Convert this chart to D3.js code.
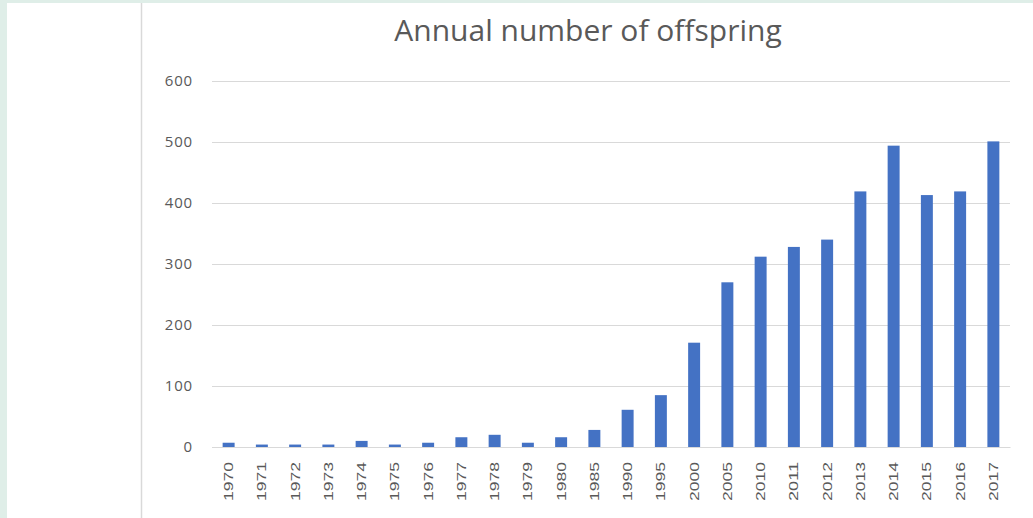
<!doctype html>
<html lang="en">
  <head>
    <meta charset="utf-8">
    <title>Annual number of offspring</title>
    <script src="https://cdnjs.cloudflare.com/ajax/libs/d3/7.8.5/d3.min.js"></script>
    <style>
      html, body { margin: 0; padding: 0; background: #dfeee8; }
      #chart { position: absolute; left: 7px; top: 3px; width: 1026px; height: 515px; background: #fff; }
      .grid line { stroke: #d9d9d9; stroke-width: 1; }
      .tick text { fill: #595959; }
    </style>
  </head>
  <body>
    <div id="chart"></div>
    <script>
      // data
      var years = ["1970","1971","1972","1973","1974","1975","1976","1977","1978","1979","1980",
                   "1985","1990","1995","2000","2005","2010","2011","2012","2013","2014","2015","2016","2017"];
      var offspring = [7, 4, 4, 4, 10, 4, 7, 16, 20, 7, 16, 28, 61, 85, 171, 270, 312, 328, 340, 419, 494, 413, 419, 501];
      var yTicks = [0, 100, 200, 300, 400, 500, 600];

      var width = 1026, height = 515;
      // plot area, in page coords minus the 7/3 px offset of #chart
      var margin = {left: 205, right: 1003, top: 78, bottom: 444};

      var svg = d3.select("#chart").append("svg")
          .attr("width", width)
          .attr("height", height);

      // thin divider line on the left
      svg.append("line")
          .attr("x1", 134.5).attr("x2", 134.5)
          .attr("y1", 0).attr("y2", height)
          .attr("stroke", "#d9d9d9")
          .attr("stroke-width", 1.5);

      var x = d3.scaleBand()
          .domain(years)
          .range([margin.left, margin.right])
          .paddingInner(0.64)
          .paddingOuter(0.32);

      var y = d3.scaleLinear()
          .domain([0, 600])
          .range([margin.bottom, margin.top]);

      // gridlines + y labels
      var yAxis = svg.append("g")
          .attr("class", "grid")
          .attr("transform", "translate(" + margin.left + ",0)")
          .call(d3.axisLeft(y).tickValues(yTicks).tickSize(-(margin.right - margin.left)).tickPadding(19));
      yAxis.select(".domain").remove();
      yAxis.selectAll("text")
          .style("font-family", "'Open Sans', sans-serif")
          .style("font-size", "15px")
          .style("letter-spacing", "0.8px");

      // bars
      svg.selectAll("rect.bar")
          .data(offspring)
          .enter()
          .append("rect")
            .attr("class", "bar")
            .attr("x", function(d, i) { return x(years[i]); })
            .attr("y", function(d) { return y(d); })
            .attr("width", x.bandwidth())
            .attr("height", function(d) { return y(0) - y(d); })
            .attr("fill", "#4472c4");

      // x labels, rotated
      var xAxis = svg.append("g")
          .attr("transform", "translate(0," + margin.bottom + ")")
          .call(d3.axisBottom(x).tickSize(0));
      xAxis.select(".domain")
          .attr("stroke", "#d9d9d9");
      xAxis.selectAll("text")
          .attr("transform", "rotate(-90)")
          .attr("text-anchor", "end")
          .attr("x", -15)
          .attr("y", 0)
          .attr("dy", "0.35em")
          .attr("textLength", 39)
          .attr("lengthAdjust", "spacingAndGlyphs")
          .style("font-family", "'Liberation Sans', sans-serif")
          .style("font-size", "13px");

      // title
      svg.append("text")
          .attr("x", 581)
          .attr("y", 38)
          .attr("text-anchor", "middle")
          .attr("fill", "#595959")
          .style("font-family", "'Open Sans', sans-serif")
          .style("font-size", "30px")
          .text("Annual number of offspring");
    </script>
  </body>
</html>
